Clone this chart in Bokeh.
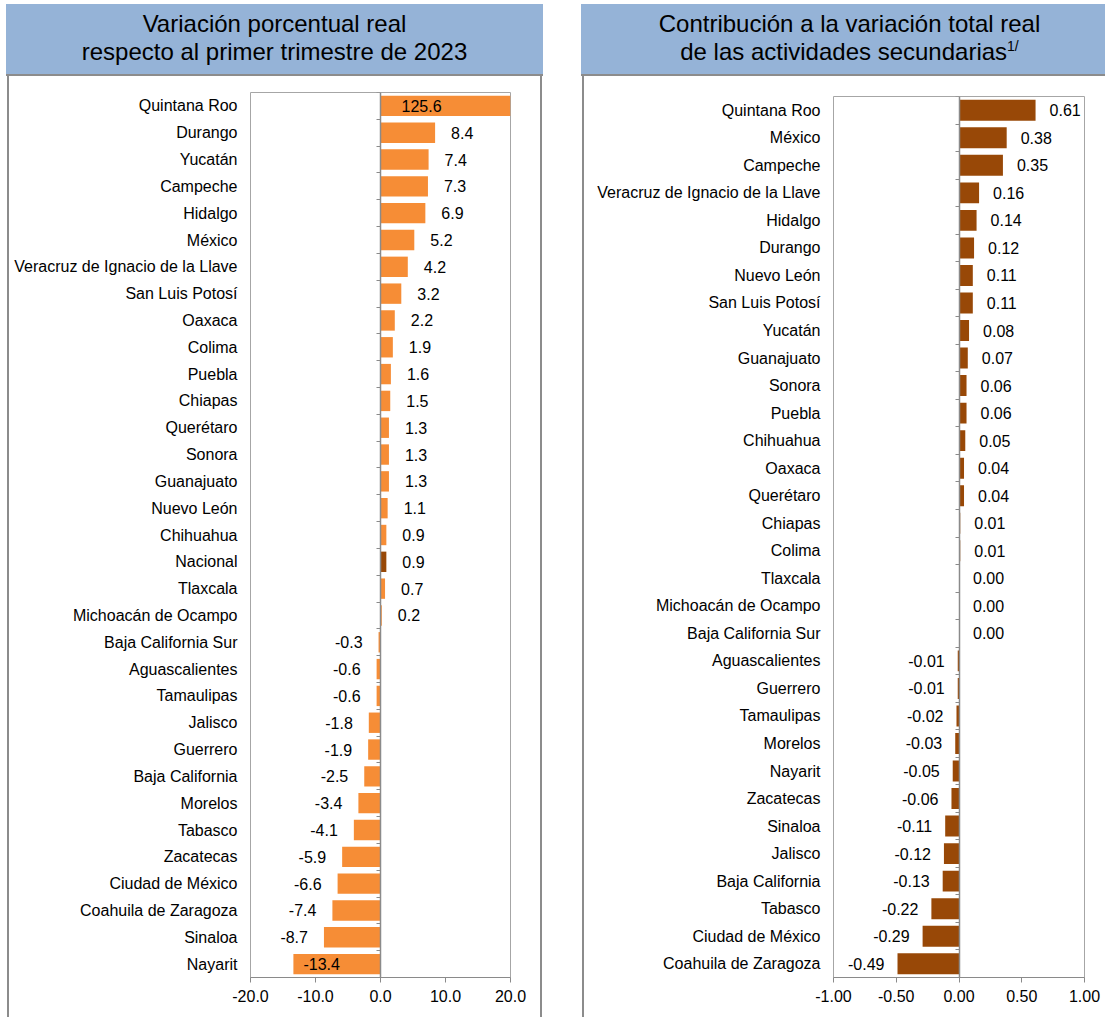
from bokeh.plotting import figure
from bokeh.models import (ColumnDataSource, Range1d, LinearAxis, FixedTicker,
                          NumeralTickFormatter, Div, Spacer, CustomJSTickFormatter)
from bokeh.layouts import row, column
from bokeh.core.properties import value
from bokeh.embed import file_html
from bokeh.resources import INLINE

# ---------------- data ----------------
cats_left = ["Quintana Roo", "Durango", "Yucatán", "Campeche", "Hidalgo", "México",
             "Veracruz de Ignacio de la Llave", "San Luis Potosí", "Oaxaca", "Colima",
             "Puebla", "Chiapas", "Querétaro", "Sonora", "Guanajuato", "Nuevo León",
             "Chihuahua", "Nacional", "Tlaxcala", "Michoacán de Ocampo",
             "Baja California Sur", "Aguascalientes", "Tamaulipas", "Jalisco", "Guerrero",
             "Baja California", "Morelos", "Tabasco", "Zacatecas", "Ciudad de México",
             "Coahuila de Zaragoza", "Sinaloa", "Nayarit"]
vals_left = [125.6, 8.4, 7.4, 7.3, 6.9, 5.2, 4.2, 3.2, 2.2, 1.9, 1.6, 1.5, 1.3, 1.3, 1.3,
             1.1, 0.9, 0.9, 0.7, 0.2, -0.3, -0.6, -0.6, -1.8, -1.9, -2.5, -3.4, -4.1,
             -5.9, -6.6, -7.4, -8.7, -13.4]
ticks_left = [-20, -10, 0, 10, 20]

cats_right = ["Quintana Roo", "México", "Campeche", "Veracruz de Ignacio de la Llave",
              "Hidalgo", "Durango", "Nuevo León", "San Luis Potosí", "Yucatán",
              "Guanajuato", "Sonora", "Puebla", "Chihuahua", "Oaxaca", "Querétaro",
              "Chiapas", "Colima", "Tlaxcala", "Michoacán de Ocampo", "Baja California Sur",
              "Aguascalientes", "Guerrero", "Tamaulipas", "Morelos", "Nayarit", "Zacatecas",
              "Sinaloa", "Jalisco", "Baja California", "Tabasco", "Ciudad de México",
              "Coahuila de Zaragoza"]
vals_right = [0.61, 0.38, 0.35, 0.16, 0.14, 0.12, 0.11, 0.11, 0.08, 0.07, 0.06, 0.06, 0.05,
              0.04, 0.04, 0.01, 0.01, 0.00, 0.00, 0.00, -0.01, -0.01, -0.02, -0.03, -0.05,
              -0.06, -0.11, -0.12, -0.13, -0.22, -0.29, -0.49]
ticks_right = [-1.0, -0.5, 0.0, 0.5, 1.0]

title_left = "Variación porcentual real<br>respecto al primer trimestre de 2023"
title_right = "Contribución a la variación total real<br>de las actividades secundarias"
title_right_sup = "1/"

# ---------------- style ----------------
FONT = "Liberation Sans"
ORANGE = "#F68D36"
BROWN = "#984807"
HEADER_BG = "#95B3D7"
PANEL_LINE = "#8c8c8c"
AXIS_GRAY = "#8a8a8a"
FRAME_GRAY = "#a6a6a6"
FS = "16px"


def make_chart(cats, vals, colors, xr, ticks, fmt, decimals, frame_w, frame_h,
               mb_left, mb_right, mb_top, mb_bottom, pos_gap, neg_gap):
    n = len(cats)
    rows = [i + 0.5 for i in range(n)]          # row centres, first category on top
    p = figure(y_range=Range1d(n, 0), x_range=Range1d(*xr),
               frame_width=frame_w, frame_height=frame_h,
               min_border_left=mb_left, min_border_right=mb_right,
               min_border_top=mb_top, min_border_bottom=mb_bottom,
               output_backend="svg", toolbar_location=None)
    p.outline_line_color = FRAME_GRAY
    p.outline_line_width = 1
    p.xgrid.visible = False
    p.ygrid.visible = False

    src = ColumnDataSource(dict(y=rows, val=vals, color=colors))
    p.hbar(y="y", left=0, right="val", height=0.76, fill_color="color",
           line_color=None, source=src)

    # value labels
    px_per = frame_w / (xr[1] - xr[0])
    L = dict(x=[], y=[], t=[], off=[])
    R = dict(x=[], y=[], t=[], off=[])
    for yy, v in zip(rows, vals):
        t = f"{v:.{decimals}f}"
        w = len(t) * 0.556 * 16
        if v > xr[1]:
            L["x"].append(0); L["y"].append(yy); L["t"].append(t); L["off"].append(21)
        elif v >= 0:
            L["x"].append(v); L["y"].append(yy); L["t"].append(t); L["off"].append(pos_gap)
        elif (v - xr[0]) * px_per - neg_gap - w < 0:
            L["x"].append(v); L["y"].append(yy); L["t"].append(t); L["off"].append(10)
        else:
            R["x"].append(v); R["y"].append(yy); R["t"].append(t); R["off"].append(-neg_gap)
    for d, align in ((L, "left"), (R, "right")):
        p.text(x="x", y="y", text="t", x_offset="off", source=ColumnDataSource(d),
               text_align=align, text_baseline="middle", text_font=value(FONT),
               text_font_size=FS, text_color="black")

    # category axis (labels only)
    yax = p.yaxis[0]
    yax.ticker = FixedTicker(ticks=rows)
    yax.formatter = CustomJSTickFormatter(args=dict(names=cats),
                                          code="return names[Math.floor(tick)] || '';")
    yax.axis_line_color = None
    yax.major_tick_line_color = None
    yax.major_tick_out = 0
    yax.major_tick_in = 0
    yax.minor_tick_line_color = None
    yax.minor_tick_out = 0
    yax.major_label_standoff = 13
    yax.major_label_text_font = FONT
    yax.major_label_text_font_size = FS
    yax.major_label_text_color = "black"

    # value axis
    xax = p.xaxis[0]
    xax.ticker = FixedTicker(ticks=ticks)
    xax.formatter = NumeralTickFormatter(format=fmt)
    xax.axis_line_color = AXIS_GRAY
    xax.major_tick_line_color = AXIS_GRAY
    xax.major_tick_in = 0
    xax.major_tick_out = 5
    xax.minor_tick_line_color = None
    xax.major_label_standoff = 7
    xax.major_label_text_font = FONT
    xax.major_label_text_font_size = FS
    xax.major_label_text_color = "black"

    # zero line with category boundary ticks
    za = LinearAxis(ticker=FixedTicker(ticks=list(range(n + 1))),
                    fixed_location=0, major_tick_in=4, major_tick_out=0,
                    minor_tick_line_color=None, axis_line_color=AXIS_GRAY,
                    axis_line_width=1.5, major_tick_line_color=AXIS_GRAY,
                    major_label_text_font_size="0px", major_label_standoff=0,
                    formatter=CustomJSTickFormatter(code="return '';"))
    p.add_layout(za, "right")
    return p


def header(html, width, pad_left=0):
    return Div(text=(f'<div style="width:{width}px;height:72px;box-sizing:border-box;'
                     f'background:{HEADER_BG};border-bottom:2px solid {PANEL_LINE};'
                     f'font-family:\'{FONT}\';font-size:24px;line-height:28px;'
                     f'text-align:center;color:#000;padding-top:6px;padding-left:{pad_left}px;">'
                     f'{html}</div>'),
               width=width, height=72, margin=0)


def vline(h):
    return Div(text=f'<div style="width:2px;height:{h}px;background:{PANEL_LINE};"></div>',
               width=2, height=h, margin=0)


colors_left = [BROWN if c == "Nacional" else ORANGE for c in cats_left]
colors_right = [BROWN for _ in cats_right]

H = 941
p_left = make_chart(cats_left, vals_left, colors_left, (-20, 20), ticks_left, "0.0", 1,
                    260, 885, 241, 30, 16, H - 16 - 885, 16, 16)
p_right = make_chart(cats_right, vals_right, colors_right, (-1, 1), ticks_right, "0.00", 2,
                     251, 881, 249, 21, 20, H - 20 - 881, 14, 13)

left_col = column(header(title_left, 537),
                  row(Spacer(width=1, height=H, margin=0), vline(H), p_left, vline(H),
                      Spacer(width=1, height=H, margin=0)))
right_title = (title_right + f'<sup style="font-size:14px;line-height:0;vertical-align:9px;">'
               f'{title_right_sup}</sup>')
right_col = column(header(right_title, 524, pad_left=13),
                   row(Spacer(width=1, height=H, margin=0), vline(H), p_right))
main = row(Spacer(width=6, height=72 + H, margin=0), left_col,
           Spacer(width=38, height=72 + H, margin=0), right_col)
layout = column(Spacer(width=1105, height=4, margin=0), main)

open("out.html", "w").write(file_html(layout, INLINE))
